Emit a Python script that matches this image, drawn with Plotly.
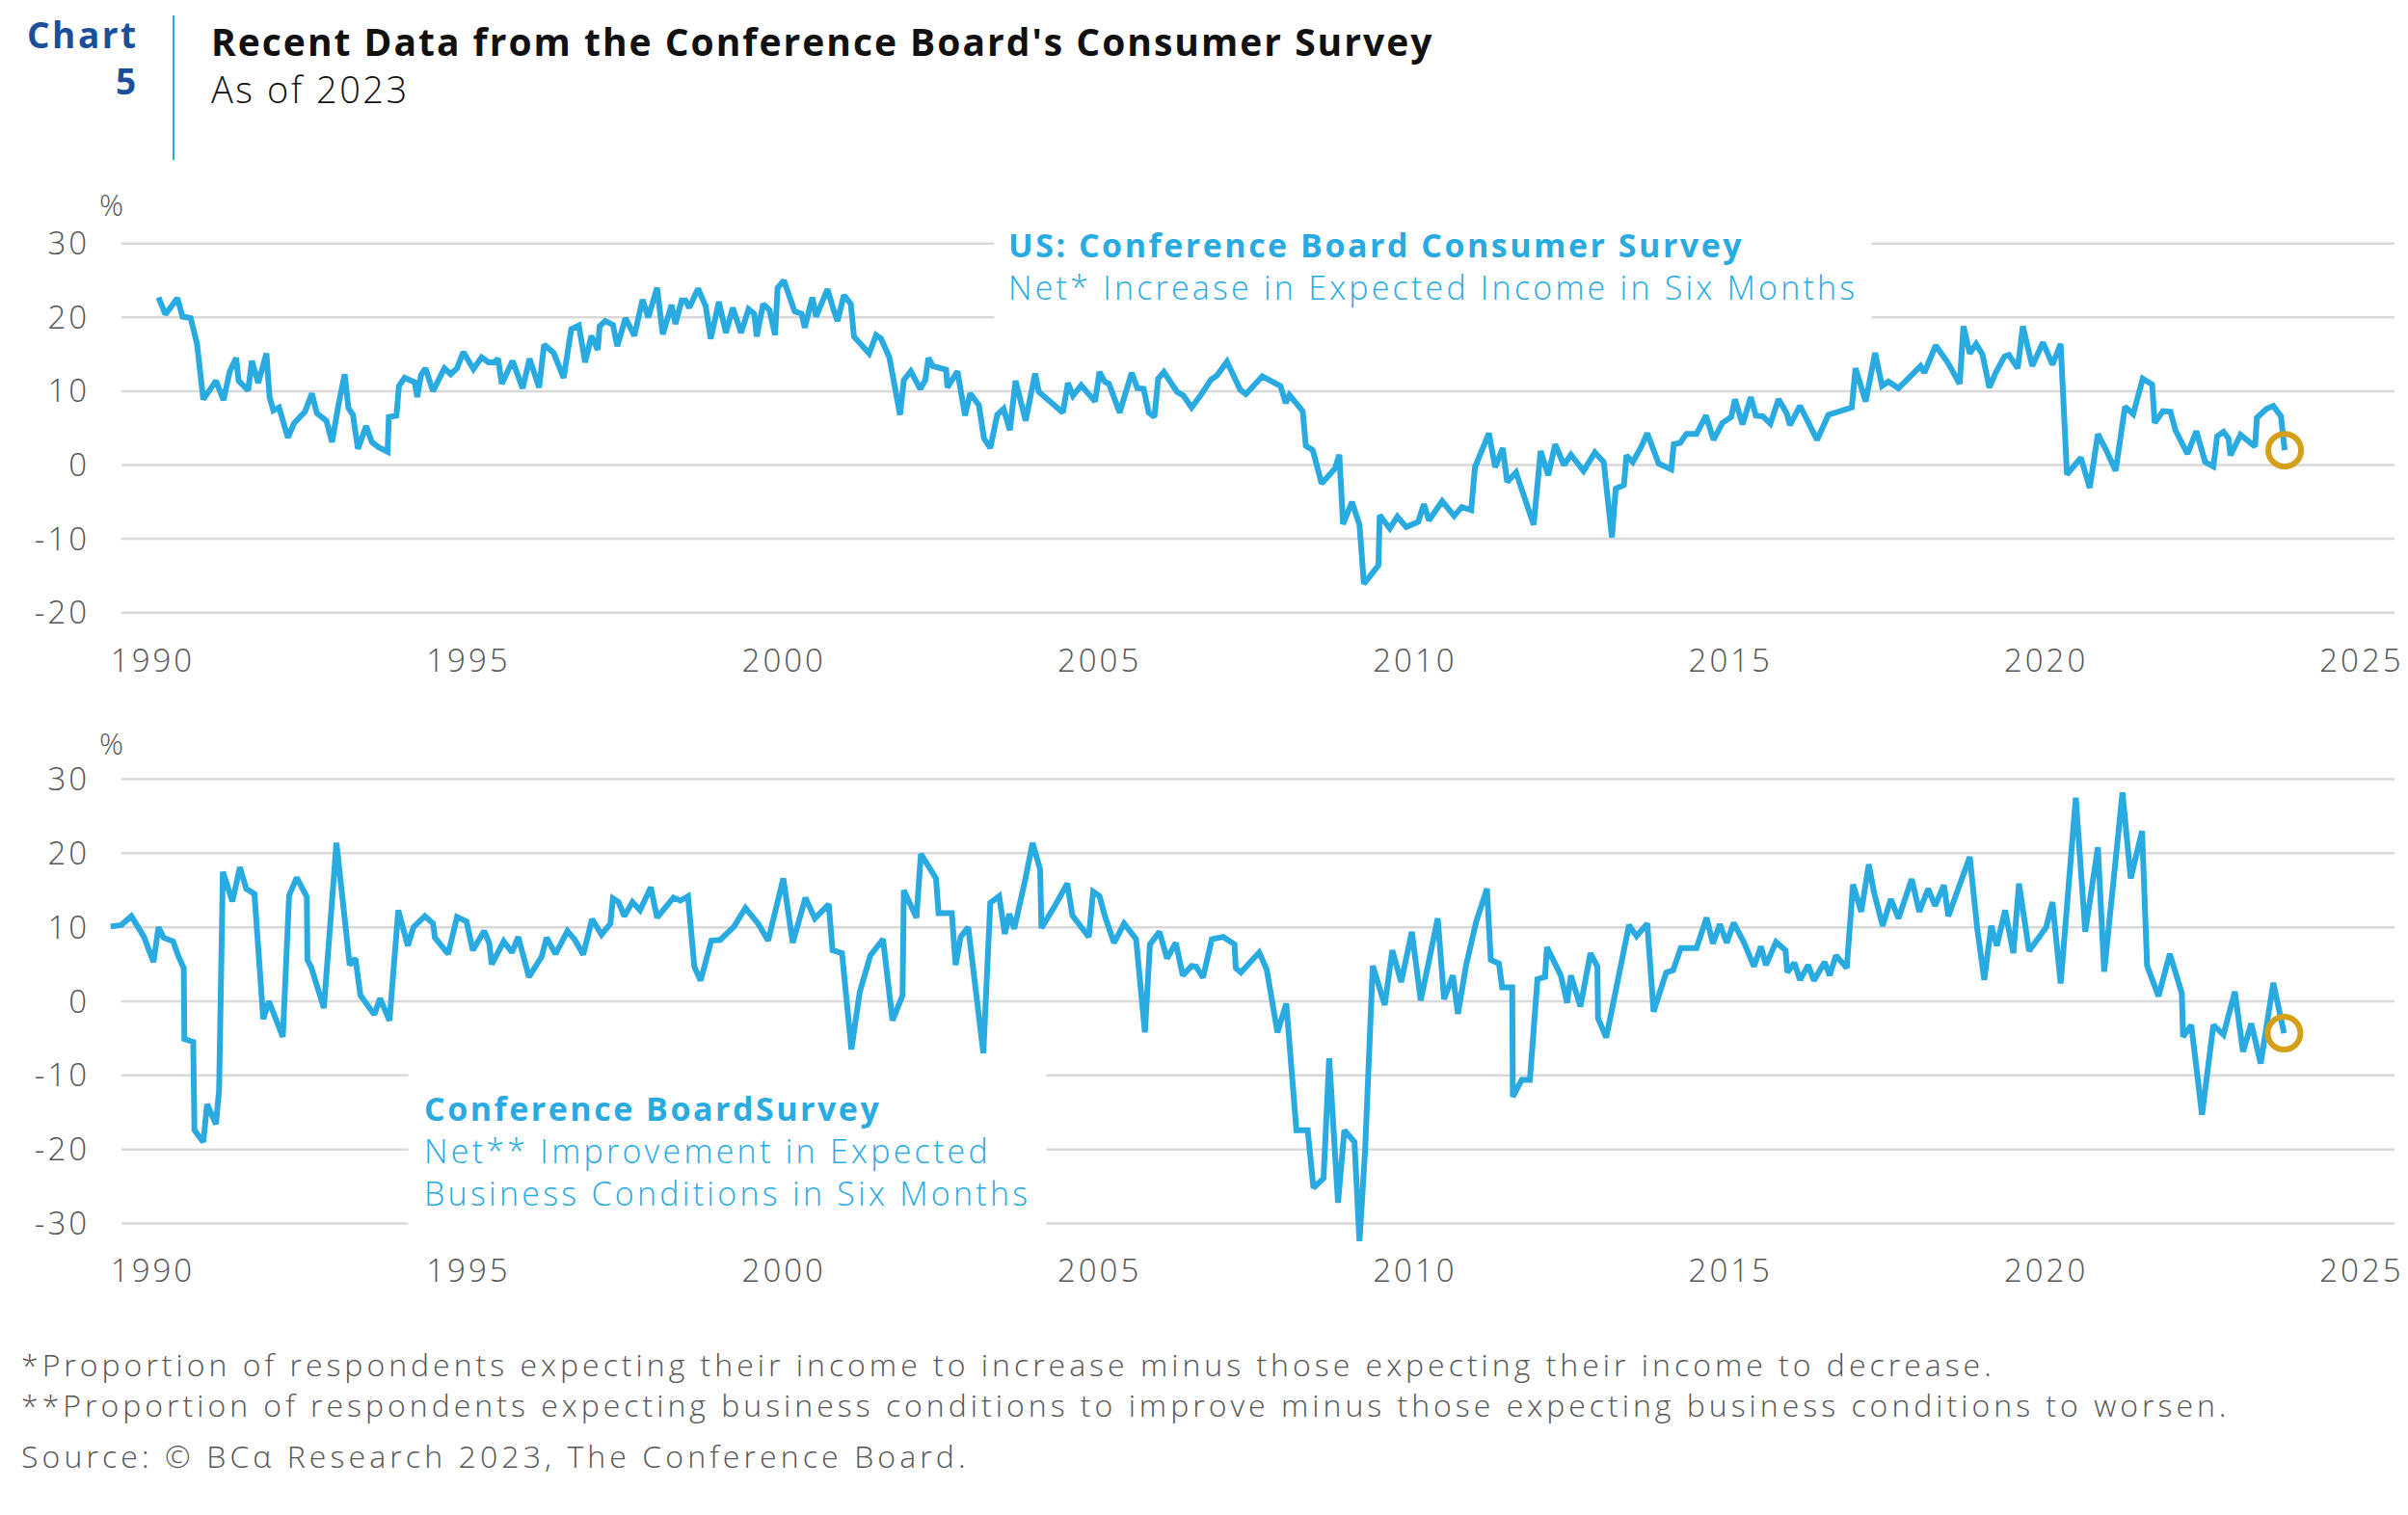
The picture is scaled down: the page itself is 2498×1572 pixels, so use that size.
import plotly.graph_objects as go

# ---------------- data ----------------
INCOME_YEAR = [
    1990.09, 1990.2, 1990.39, 1990.47, 1990.6, 1990.7, 1990.8, 1991.0, 1991.12, 1991.22,
    1991.32, 1991.36, 1991.51, 1991.57, 1991.67, 1991.8, 1991.85, 1991.91, 1992.0, 1992.14,
    1992.24, 1992.41, 1992.52, 1992.6, 1992.75, 1992.84, 1992.94, 1993.04, 1993.1, 1993.17,
    1993.25, 1993.38, 1993.47, 1993.58, 1993.72, 1993.74, 1993.86, 1993.9, 1993.99, 1994.15,
    1994.19, 1994.25, 1994.32, 1994.44, 1994.62, 1994.72, 1994.82, 1994.92, 1995.08, 1995.21,
    1995.32, 1995.41, 1995.47, 1995.53, 1995.7, 1995.79, 1995.86, 1995.97, 1996.12, 1996.2,
    1996.35, 1996.51, 1996.63, 1996.75, 1996.85, 1996.95, 1997.05, 1997.08, 1997.17, 1997.29,
    1997.36, 1997.49, 1997.63, 1997.76, 1997.85, 1997.99, 1998.08, 1998.22, 1998.28, 1998.38,
    1998.44, 1998.5, 1998.64, 1998.76, 1998.84, 1998.97, 1999.08, 1999.19, 1999.32, 1999.44,
    1999.53, 1999.57, 1999.67, 1999.77, 1999.86, 1999.9, 2000.0, 2000.17, 2000.28, 2000.33,
    2000.45, 2000.51, 2000.69, 2000.78, 2000.85, 2000.95, 2001.06, 2001.11, 2001.35, 2001.46,
    2001.54, 2001.67, 2001.84, 2001.9, 2002.01, 2002.16, 2002.24, 2002.29, 2002.36, 2002.57,
    2002.59, 2002.75, 2002.87, 2002.95, 2003.09, 2003.17, 2003.27, 2003.38, 2003.48, 2003.58,
    2003.67, 2003.83, 2003.98, 2004.04, 2004.42, 2004.5, 2004.58, 2004.71, 2004.93, 2005.0,
    2005.08, 2005.15, 2005.32, 2005.51, 2005.6, 2005.7, 2005.78, 2005.87, 2005.93, 2006.02,
    2006.23, 2006.33, 2006.46, 2006.6, 2006.77, 2006.86, 2007.02, 2007.23, 2007.32, 2007.58,
    2007.87, 2007.95, 2008.01, 2008.22, 2008.27, 2008.38, 2008.52, 2008.73, 2008.8, 2008.86,
    2009.0, 2009.12, 2009.19, 2009.42, 2009.44, 2009.6, 2009.72, 2009.86, 2010.05, 2010.14,
    2010.22, 2010.43, 2010.62, 2010.74, 2010.89, 2010.95, 2011.17, 2011.27, 2011.39, 2011.46,
    2011.6, 2011.88, 2011.99, 2012.11, 2012.22, 2012.36, 2012.47, 2012.67, 2012.85, 2012.99,
    2013.12, 2013.18, 2013.31, 2013.35, 2013.45, 2013.58, 2013.68, 2013.86, 2014.06, 2014.1,
    2014.2, 2014.3, 2014.46, 2014.61, 2014.73, 2014.87, 2015.01, 2015.07, 2015.19, 2015.32,
    2015.4, 2015.51, 2015.63, 2015.76, 2015.89, 2015.94, 2016.1, 2016.37, 2016.55, 2016.92,
    2016.98, 2017.14, 2017.29, 2017.4, 2017.5, 2017.66, 2017.85, 2018.01, 2018.07, 2018.25,
    2018.44, 2018.63, 2018.69, 2018.79, 2018.89, 2018.99, 2019.1, 2019.2, 2019.34, 2019.41,
    2019.55, 2019.63, 2019.78, 2019.95, 2020.1, 2020.23, 2020.33, 2020.55, 2020.69, 2020.82,
    2020.97, 2021.1, 2021.25, 2021.38, 2021.53, 2021.68, 2021.72, 2021.85, 2021.97, 2022.05,
    2022.24, 2022.38, 2022.52, 2022.65, 2022.71, 2022.81, 2022.89, 2022.92, 2023.08, 2023.31,
    2023.34, 2023.49, 2023.6, 2023.72, 2023.78,
]
INCOME_VAL = [
    22.7, 20.4, 22.6, 20.1, 19.9, 16.4, 8.9, 11.4, 8.8, 12.7,
    14.5, 11.4, 10.1, 14.1, 11.1, 15.1, 9.2, 7.4, 7.8, 3.7,
    5.7, 7.2, 9.7, 7.0, 6.0, 3.1, 8.1, 12.3, 7.7, 6.8,
    2.2, 5.3, 3.1, 2.4, 1.8, 6.5, 6.7, 10.7, 11.8, 11.2,
    9.2, 12.2, 13.1, 10.0, 13.1, 12.3, 13.1, 15.3, 13.0, 14.6,
    13.9, 13.9, 14.4, 11.0, 14.1, 11.8, 10.4, 14.4, 10.5, 16.3,
    15.2, 11.8, 18.4, 18.9, 13.9, 17.5, 15.6, 18.8, 19.5, 19.0,
    16.1, 19.9, 17.5, 22.4, 20.0, 24.0, 17.7, 21.7, 19.1, 22.3,
    22.3, 21.3, 23.9, 21.5, 17.1, 22.1, 17.9, 21.3, 17.9, 21.1,
    20.5, 17.4, 21.8, 21.0, 17.6, 24.0, 25.0, 20.8, 20.5, 18.6,
    22.7, 20.1, 23.8, 21.2, 19.5, 23.0, 21.8, 17.4, 15.1, 17.6,
    17.1, 14.6, 6.8, 11.5, 12.7, 10.3, 11.5, 14.5, 13.4, 12.9,
    10.5, 12.7, 6.7, 9.7, 8.1, 3.6, 2.3, 6.8, 7.6, 4.7,
    11.4, 6.0, 12.4, 9.9, 7.1, 11.1, 9.4, 10.8, 8.6, 12.6,
    11.3, 11.0, 7.1, 12.5, 10.4, 10.3, 7.1, 6.5, 11.7, 12.6,
    9.9, 9.4, 7.8, 9.4, 11.6, 12.1, 14.0, 10.2, 9.6, 12.0,
    10.7, 8.4, 9.5, 7.3, 2.6, 2.0, -2.5, -0.5, 1.4, -8.0,
    -5.0, -8.1, -16.1, -13.6, -6.8, -8.6, -7.0, -8.4, -7.7, -5.3,
    -7.5, -4.9, -6.9, -5.7, -6.1, -0.3, 4.3, -0.3, 2.3, -2.3,
    -1.0, -8.1, 1.9, -1.4, 2.8, 0.0, 1.4, -0.8, 1.7, 0.4,
    -9.8, -3.2, -2.7, 1.3, 0.4, 2.4, 4.3, 0.2, -0.6, 2.8,
    3.0, 4.2, 4.2, 6.7, 3.4, 5.7, 6.5, 8.9, 5.5, 9.2,
    6.7, 6.6, 5.6, 8.9, 7.0, 5.4, 8.0, 3.4, 6.8, 7.8,
    13.1, 8.6, 15.2, 10.7, 11.3, 10.4, 12.1, 13.4, 12.5, 16.2,
    13.9, 11.0, 18.8, 15.1, 16.4, 15.0, 10.5, 12.5, 14.7, 14.9,
    13.1, 18.8, 13.4, 16.6, 13.6, 16.4, -1.3, 1.0, -3.1, 4.2,
    1.7, -0.8, 7.9, 6.9, 11.7, 10.9, 5.7, 7.3, 7.2, 4.7,
    1.5, 4.6, 0.4, -0.2, 3.9, 4.5, 3.6, 1.3, 4.1, 2.5,
    6.4, 7.6, 8.0, 6.6, 2.0,
]

BUSINESS_YEAR = [
    1989.33, 1989.5, 1989.66, 1989.86, 1990.01, 1990.09, 1990.17, 1990.32, 1990.41, 1990.49,
    1990.5, 1990.64, 1990.66, 1990.8, 1990.86, 1991.0, 1991.05, 1991.11, 1991.26, 1991.38,
    1991.48, 1991.61, 1991.75, 1991.84, 1992.06, 1992.16, 1992.28, 1992.44, 1992.45, 1992.51,
    1992.71, 1992.91, 1993.12, 1993.21, 1993.29, 1993.51, 1993.6, 1993.75, 1993.89, 1994.04,
    1994.13, 1994.31, 1994.44, 1994.47, 1994.68, 1994.82, 1994.97, 1995.07, 1995.25, 1995.33,
    1995.37, 1995.56, 1995.69, 1995.79, 1995.96, 1996.16, 1996.24, 1996.38, 1996.57, 1996.68,
    1996.82, 1996.96, 1997.11, 1997.25, 1997.29, 1997.38, 1997.47, 1997.6, 1997.72, 1997.89,
    1997.99, 1998.13, 1998.25, 1998.36, 1998.48, 1998.58, 1998.68, 1998.85, 1998.99, 1999.21,
    1999.39, 1999.59, 1999.75, 1999.99, 2000.14, 2000.34, 2000.49, 2000.71, 2000.77, 2000.92,
    2001.07, 2001.2, 2001.37, 2001.57, 2001.72, 2001.88, 2001.9, 2002.1, 2002.17, 2002.41,
    2002.45, 2002.66, 2002.72, 2002.8, 2002.92, 2003.16, 2003.27, 2003.41, 2003.5, 2003.57,
    2003.65, 2003.83, 2003.94, 2004.06, 2004.08, 2004.28, 2004.49, 2004.57, 2004.83, 2004.9,
    2005.0, 2005.09, 2005.23, 2005.39, 2005.58, 2005.72, 2005.8, 2005.95, 2006.07, 2006.21,
    2006.32, 2006.46, 2006.53, 2006.64, 2006.78, 2006.96, 2007.14, 2007.16, 2007.24, 2007.53,
    2007.65, 2007.82, 2007.96, 2008.12, 2008.3, 2008.39, 2008.55, 2008.64, 2008.78, 2008.88,
    2009.04, 2009.12, 2009.21, 2009.33, 2009.52, 2009.64, 2009.78, 2009.95, 2010.09, 2010.36,
    2010.46, 2010.6, 2010.68, 2010.81, 2010.97, 2011.14, 2011.2, 2011.33, 2011.38, 2011.54,
    2011.55, 2011.69, 2011.82, 2011.94, 2012.06, 2012.09, 2012.31, 2012.41, 2012.47, 2012.62,
    2012.78, 2012.89, 2012.9, 2013.03, 2013.25, 2013.39, 2013.51, 2013.68, 2013.78, 2013.84,
    2013.98, 2014.09, 2014.21, 2014.46, 2014.62, 2014.72, 2014.83, 2014.94, 2015.05, 2015.22,
    2015.37, 2015.48, 2015.56, 2015.72, 2015.87, 2015.9, 2016.01, 2016.1, 2016.23, 2016.32,
    2016.49, 2016.57, 2016.67, 2016.84, 2016.94, 2017.07, 2017.19, 2017.27, 2017.41, 2017.54,
    2017.66, 2017.87, 2017.99, 2018.13, 2018.24, 2018.38, 2018.45, 2018.79, 2018.91, 2019.02,
    2019.13, 2019.22, 2019.35, 2019.48, 2019.57, 2019.73, 2020.0, 2020.1, 2020.23, 2020.47,
    2020.62, 2020.82, 2020.92, 2021.21, 2021.34, 2021.52, 2021.6, 2021.78, 2021.96, 2022.15,
    2022.17, 2022.3, 2022.47, 2022.65, 2022.81, 2022.99, 2023.12, 2023.25, 2023.4, 2023.6,
    2023.77,
]
BUSINESS_VAL = [
    10.1, 10.3, 11.5, 8.7, 5.3, 10.0, 8.6, 8.1, 6.0, 4.5,
    -5.1, -5.5, -17.4, -19.0, -13.9, -16.6, -12.0, 17.5, 13.5, 18.1,
    15.2, 14.5, -2.4, 0.0, -4.8, 14.3, 16.7, 14.1, 5.6, 4.6,
    -0.9, 21.4, 4.9, 5.8, 0.8, -1.8, 0.4, -2.6, 12.3, 7.5,
    10.0, 11.5, 10.5, 8.6, 6.4, 11.4, 10.8, 6.9, 9.5, 7.9,
    5.0, 8.1, 6.6, 8.7, 3.3, 6.0, 8.6, 6.4, 9.5, 8.4,
    6.3, 11.1, 9.0, 10.5, 13.9, 13.4, 11.5, 13.4, 12.3, 15.4,
    11.3, 12.9, 14.0, 13.6, 14.2, 4.7, 2.8, 8.2, 8.3, 10.1,
    12.6, 10.5, 8.2, 16.6, 7.9, 14.0, 11.2, 13.1, 6.9, 6.5,
    -6.5, 1.2, 6.2, 8.4, -2.6, 0.8, 15.0, 11.3, 19.9, 16.6,
    11.9, 11.9, 4.9, 8.7, 10.0, -7.0, 13.3, 14.2, 9.1, 11.8,
    9.8, 16.7, 21.4, 17.8, 9.9, 12.7, 15.9, 11.6, 8.7, 14.8,
    14.2, 11.4, 7.9, 10.5, 8.4, -4.2, 7.7, 9.4, 5.8, 7.9,
    3.5, 4.8, 4.7, 3.2, 8.4, 8.7, 7.7, 4.5, 3.9, 6.6,
    4.3, -4.2, -0.3, -17.4, -17.4, -25.2, -23.9, -7.7, -27.2, -17.4,
    -19.0, -32.4, -20.0, 4.8, -0.5, 6.9, 2.6, 9.4, 0.1, 11.2,
    0.3, 3.5, -1.7, 4.9, 10.8, 15.2, 5.6, 5.1, 1.9, 1.9,
    -12.9, -10.6, -10.6, 3.0, 3.3, 7.3, 3.5, -0.2, 3.5, -0.7,
    6.5, 4.7, -2.3, -4.9, 4.7, 10.3, 8.8, 10.5, -1.4, 0.1,
    3.9, 4.2, 7.2, 7.2, 11.3, 7.8, 10.4, 7.9, 10.6, 7.8,
    4.7, 7.4, 4.9, 8.0, 6.9, 3.9, 5.2, 2.9, 4.9, 2.8,
    5.3, 3.5, 6.2, 4.5, 15.8, 12.1, 18.5, 14.8, 10.2, 13.8,
    11.2, 16.5, 12.1, 15.2, 12.9, 15.7, 11.5, 19.5, 9.7, 2.9,
    10.2, 7.5, 12.3, 6.5, 15.9, 6.8, 10.0, 13.4, 2.4, 27.5,
    9.4, 20.8, 4.0, 28.2, 16.6, 23.0, 4.8, 0.7, 6.4, 1.1,
    -4.8, -3.2, -15.3, -3.2, -4.5, 1.3, -6.8, -3.0, -8.4, 2.5,
    -4.3,
]

X_TICKS = [1990, 1995, 2000, 2005, 2010, 2015, 2020, 2025]
X_TICK_LABELS = ["1990", "1995", "2000", "2005", "2010", "2015", "2020", "2025"]
TOP_Y_TICKS = [30, 20, 10, 0, -10, -20]
BOT_Y_TICKS = [30, 20, 10, 0, -10, -20, -30]

CHART_TAG = ["Chart", "5"]
TITLE = "Recent Data from the Conference Board's Consumer Survey"
SUBTITLE = "As of 2023"
TOP_LABEL_BOLD = "US: Conference Board Consumer Survey"
TOP_LABEL = "Net* Increase in Expected Income in Six Months"
BOT_LABEL_BOLD = "Conference BoardSurvey"
BOT_LABEL = ["Net** Improvement in Expected", "Business Conditions in Six Months"]
FOOTNOTES = [
    "*Proportion of respondents expecting their income to increase minus those expecting their income to decrease.",
    "**Proportion of respondents expecting business conditions to improve minus those expecting business conditions to worsen.",
]
SOURCE = "Source: \u00a9 BC\u03b1 Research 2023, The Conference Board."

# ---------------- style ----------------
W, H = 2498, 1572
BLUE = "#29ABE2"
DARK_BLUE = "#1B4F9C"
GOLD = "#D4A017"
GRID = "#D9D9D9"
GREY = "#555555"
FONT = "Open Sans"

X_RANGE = [1989.3, 2025.52]
GRID_START = 1989.5
X_DOMAIN = [112.7 / W, 2484 / W]
TOP_RANGE = [-22.6, 31]
BOT_RANGE = [-32.5, 31]
TOP_DOMAIN = [1 - (482.5 + 22.6 * 7.66) / H, 1 - (482.5 - 31 * 7.66) / H]
BOT_DOMAIN = [1 - (1039 + 32.5 * 7.683) / H, 1 - (1039 - 31 * 7.683) / H]


def px(x):
    return x / W


def py(y):
    return 1 - y / H


def spaced(text, ls):
    return '<span style="letter-spacing:%spx">%s</span>' % (ls, text)


fig = go.Figure()

fig.add_trace(go.Scatter(x=INCOME_YEAR, y=INCOME_VAL, mode="lines",
                         line=dict(color=BLUE, width=6), xaxis="x", yaxis="y",
                         hoverinfo="skip"))
fig.add_trace(go.Scatter(x=[INCOME_YEAR[-1]], y=[INCOME_VAL[-1]], mode="markers",
                         marker=dict(symbol="circle-open", size=34, color=GOLD,
                                     line=dict(width=6, color=GOLD)),
                         xaxis="x", yaxis="y", hoverinfo="skip"))
fig.add_trace(go.Scatter(x=BUSINESS_YEAR, y=BUSINESS_VAL, mode="lines",
                         line=dict(color=BLUE, width=6), xaxis="x2", yaxis="y2",
                         hoverinfo="skip"))
fig.add_trace(go.Scatter(x=[BUSINESS_YEAR[-1]], y=[BUSINESS_VAL[-1]], mode="markers",
                         marker=dict(symbol="circle-open", size=34, color=GOLD,
                                     line=dict(width=6, color=GOLD)),
                         xaxis="x2", yaxis="y2", hoverinfo="skip"))

shapes = []
for v in TOP_Y_TICKS:
    shapes.append(dict(type="line", xref="x", yref="y", x0=GRID_START, x1=X_RANGE[1],
                       y0=v, y1=v, line=dict(color=GRID, width=2.5), layer="below"))
for v in BOT_Y_TICKS:
    shapes.append(dict(type="line", xref="x2", yref="y2", x0=GRID_START, x1=X_RANGE[1],
                       y0=v, y1=v, line=dict(color=GRID, width=2.5), layer="below"))
# header separator
shapes.append(dict(type="line", xref="paper", yref="paper", x0=px(180), x1=px(180),
                   y0=py(16), y1=py(166), line=dict(color=BLUE, width=2)))

tick_font = dict(family=FONT, size=33, color=GREY, weight=300)

xaxis_common = dict(domain=X_DOMAIN, range=X_RANGE, tickmode="array", tickvals=X_TICKS,
                    ticktext=[spaced(t, 3) for t in X_TICK_LABELS],
                    showgrid=False, zeroline=False, showline=False,
                    ticks="outside", ticklen=1, tickcolor="rgba(0,0,0,0)",
                    automargin=False, tickfont=tick_font, fixedrange=True)
yaxis_common = dict(showgrid=False, zeroline=False, showline=False, ticks="outside",
                    ticklen=12, tickcolor="rgba(0,0,0,0)", tickfont=tick_font,
                    tickmode="array", fixedrange=True, automargin=False)

annotations = [
    dict(text="<br>".join(spaced("<b>%s</b>" % t, 2.5) for t in CHART_TAG),
         x=px(146), y=py(60), xanchor="right", yanchor="middle", align="right",
         font=dict(family=FONT, size=37, color=DARK_BLUE)),
    dict(text=spaced("<b>" + TITLE + "</b>", 2), x=px(217), y=py(43), xanchor="left",
         yanchor="middle", font=dict(family=FONT, size=39, color="#111111")),
    dict(text=spaced(SUBTITLE, 2.5), x=px(217), y=py(92), xanchor="left", yanchor="middle",
         font=dict(family=FONT, size=38, color="#111111", weight=300)),
    dict(text="%", x=px(115.5), y=py(212), xanchor="center", yanchor="middle",
         font=dict(family=FONT, size=31, color=GREY, weight=300)),
    dict(text="%", x=px(115.5), y=py(771), xanchor="center", yanchor="middle",
         font=dict(family=FONT, size=31, color=GREY, weight=300)),
    dict(text=spaced("<b>" + TOP_LABEL_BOLD + "</b>", 2.5) + "<br>" + spaced(TOP_LABEL, 3.2),
         x=px(1031), y=py(275.5), xanchor="left", yanchor="middle", align="left",
         bgcolor="white", borderpad=14,
         font=dict(family=FONT, size=34, color=BLUE, weight=300)),
    dict(text=spaced("<b>" + BOT_LABEL_BOLD + "</b>", 2.5) + "<br>"
         + "<br>".join(spaced(t, 3.25) for t in BOT_LABEL),
         x=px(423), y=py(1194), xanchor="left", yanchor="middle", align="left",
         bgcolor="white", borderpad=16,
         font=dict(family=FONT, size=34, color=BLUE, weight=300)),
    dict(text="<br>".join(spaced(t, 4.0) for t in FOOTNOTES),
         x=px(20), y=py(1436), xanchor="left", yanchor="middle", align="left",
         font=dict(family=FONT, size=32, color=GREY, weight=300)),
    dict(text=spaced(SOURCE, 4.1), x=px(20), y=py(1510), xanchor="left", yanchor="middle",
         font=dict(family=FONT, size=32, color=GREY, weight=300)),
]
for a in annotations:
    a.update(xref="paper", yref="paper", showarrow=False)

fig.update_layout(
    width=W, height=H, autosize=False,
    margin=dict(l=0, r=0, t=0, b=0, autoexpand=False),
    paper_bgcolor="white", plot_bgcolor="white",
    showlegend=False,
    xaxis=dict(xaxis_common, anchor="y"),
    yaxis=dict(yaxis_common, domain=TOP_DOMAIN, range=TOP_RANGE, anchor="x",
               tickvals=TOP_Y_TICKS, ticktext=[spaced(str(v), 3) for v in TOP_Y_TICKS]),
    xaxis2=dict(xaxis_common, anchor="y2"),
    yaxis2=dict(yaxis_common, domain=BOT_DOMAIN, range=BOT_RANGE, anchor="x2",
                tickvals=BOT_Y_TICKS, ticktext=[spaced(str(v), 3) for v in BOT_Y_TICKS]),
    shapes=shapes,
    annotations=annotations,
)

fig.write_html("out.html", config={"displayModeBar": False})
